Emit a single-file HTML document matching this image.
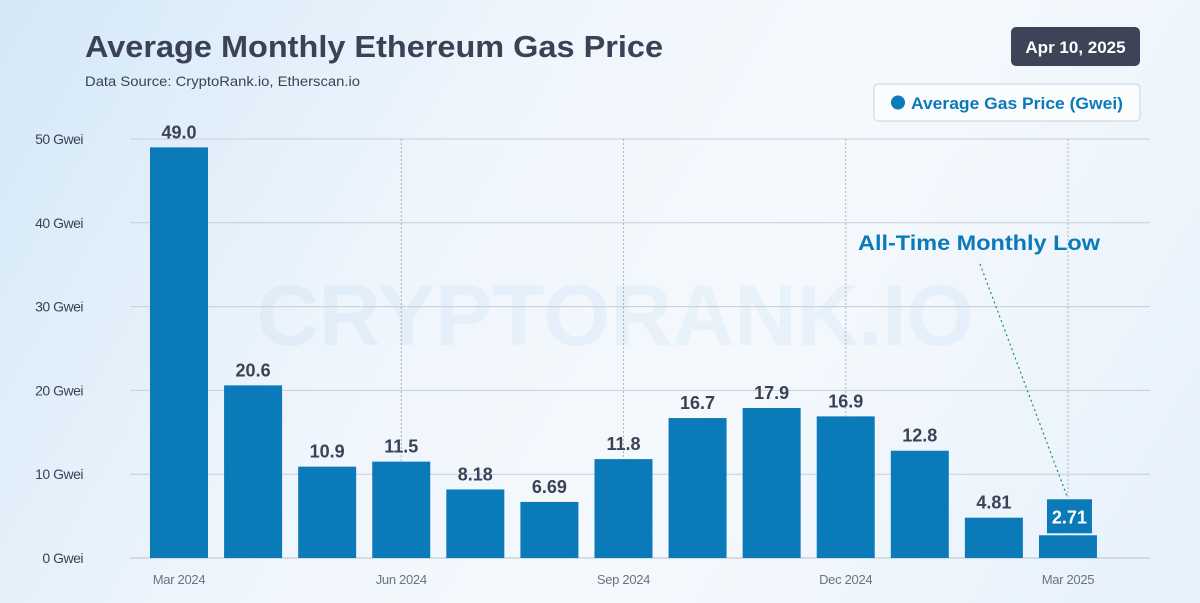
<!DOCTYPE html>
<html><head><meta charset="utf-8"><style>
body{margin:0;width:1200px;height:603px;overflow:hidden;font-family:"Liberation Sans",sans-serif;}
#bg{position:absolute;left:0;top:0;width:1200px;height:603px;background:linear-gradient(120deg,#d3e8f8 0%,#eef5fc 35%,#f5f9fd 60%,#e6f1fb 100%);}
</style></head><body>
<div id="bg"></div>
<svg id="chart" width="1200" height="603" style="position:absolute;left:0;top:0">
<text x="85" y="57" font-size="31" font-weight="bold" fill="#3b4256" textLength="578" lengthAdjust="spacingAndGlyphs">Average Monthly Ethereum Gas Price</text>
<text x="85" y="86" font-size="14" fill="#3b4256" textLength="275" lengthAdjust="spacingAndGlyphs">Data Source: CryptoRank.io, Etherscan.io</text>
<g><rect x="1011" y="27" width="129" height="39" rx="5" fill="#3d4457"/><text x="1075.5" y="53" font-size="17" font-weight="bold" fill="#fff" text-anchor="middle">Apr 10, 2025</text></g>
<g><rect x="874" y="84" width="266" height="37" rx="4" fill="#fafcfe" stroke="#c9d2dc"/><circle cx="898" cy="102.5" r="7" fill="#0b7ab8"/><text x="911" y="109" font-size="17" font-weight="bold" fill="#0b7ab8" textLength="212" lengthAdjust="spacingAndGlyphs">Average Gas Price (Gwei)</text></g>
<text x="615" y="345" font-size="86" font-weight="bold" fill="#0a78c8" fill-opacity="0.05" text-anchor="middle">CRYPTORANK.IO</text>
<g id="grid"></g><g id="bars"></g>
<g>
<text x="858" y="250" font-size="21" font-weight="bold" fill="#0b7ab8" textLength="242" lengthAdjust="spacingAndGlyphs">All-Time Monthly Low</text>
<line id="annLine" x1="980" y1="264" x2="1067" y2="497" stroke="#1f8a6a" stroke-width="1.2" stroke-dasharray="2,3"/>
</g>
</svg>
<script>
const categories=["Mar 2024","Apr 2024","May 2024","Jun 2024","Jul 2024","Aug 2024","Sep 2024","Oct 2024","Nov 2024","Dec 2024","Jan 2025","Feb 2025","Mar 2025"];
const values=[49.0,20.6,10.9,11.5,8.18,6.69,11.8,16.7,17.9,16.9,12.8,4.81,2.71];
const labels=["49.0","20.6","10.9","11.5","8.18","6.69","11.8","16.7","17.9","16.9","12.8","4.81","2.71"];
const yTicks=[0,10,20,30,40,50];
const xTickIdx=[0,3,6,9,12];
const NS="http://www.w3.org/2000/svg";
const y=v=>558-v*(419/50);
const x=i=>179+i*74.08;
function mk(t,a,p){const e=document.createElementNS(NS,t);for(const k in a)e.setAttribute(k,a[k]);p.appendChild(e);return e;}
const grid=document.getElementById('grid'),bars=document.getElementById('bars');
yTicks.forEach(t=>{
 const l=mk('line',{x1:130,x2:1150,y1:y(t),y2:y(t),stroke:t===0?'#b8c0ca':'#c6ced8','stroke-width':1},grid);
 
 
 const tx=mk('text',{x:83,y:y(t)+5,'font-size':14,fill:'#3b4256','text-anchor':'end','letter-spacing':'-0.5'},grid);
 tx.textContent=t+' Gwei';
 
 
});
xTickIdx.forEach(i=>{
 if(i>0){const l=mk('line',{x1:x(i),x2:x(i),y1:139,y2:558,stroke:'#aab4c0','stroke-dasharray':'2,2'},grid);
 
 }
 const tx=mk('text',{x:x(i),y:584,'font-size':13,fill:'#6b7382','text-anchor':'middle','letter-spacing':'-0.3'},grid);
 tx.textContent=categories[i];
 
 
});
values.forEach((v,i)=>{
 const r=mk('rect',{x:x(i)-29,y:y(v),width:58,height:558-y(v),fill:'#0b7ab8'},bars);
 
 
 const last=i===values.length-1;
 if(last){
  const b=mk('rect',{x:x(i)-21,y:y(v)-36,width:45,height:34,fill:'#0b7ab8'},bars);
  
  
  document.getElementById('annLine').setAttribute('y2',y(v)-39);
 }
 const t=mk('text',{x:x(i)+(last?1.5:0),y:last?y(v)-12:y(v)-9,'font-size':18,'font-weight':'bold',fill:last?'#fff':'#3b4256','text-anchor':'middle'},bars);
 t.textContent=labels[i];
 
 
});
</script>
</body></html>
